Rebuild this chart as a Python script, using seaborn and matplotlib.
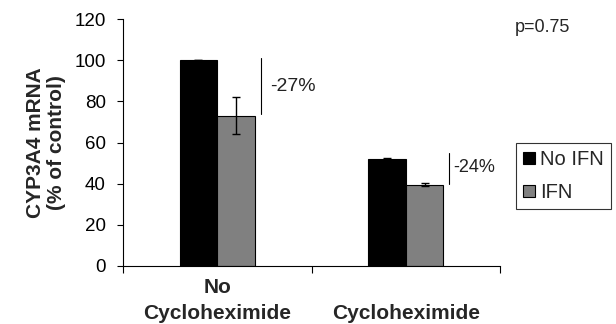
import matplotlib
matplotlib.use("Agg")
import matplotlib.pyplot as plt
import seaborn as sns
import pandas as pd
from matplotlib.lines import Line2D

# Data
conditions = ["No\nCycloheximide", "Cycloheximide"]
treatments = ["No IFN", "IFN"]
no_ifn = [100, 52]
ifn = [73, 39.5]
no_ifn_err = [0, 0.5]
ifn_err = [9, 0.6]
changes = ["-27%", "-24%"]
change_label_y = [87, 48]
p_text = "p=0.75"

df = pd.DataFrame({
    "condition": conditions * 2,
    "treatment": [treatments[0]] * 2 + [treatments[1]] * 2,
    "value": no_ifn + ifn,
})

sns.set_theme(style="white")
plt.rcParams["font.family"] = ["Liberation Sans", "DejaVu Sans"]

fig = plt.figure(figsize=(6.16, 3.24), dpi=100)
ax = fig.add_axes([123 / 616, 1 - 266 / 324, (500 - 123) / 616, (266 - 19) / 324])

colors = ["black", "#808080"]
sns.barplot(data=df, x="condition", y="value", hue="treatment",
            order=conditions, hue_order=treatments, palette=colors,
            width=0.4, edgecolor="black", linewidth=0.8, errorbar=None,
            legend=False, ax=ax)

# Error bars placed on the drawn bars
bars = ax.patches
errs = no_ifn_err + ifn_err
vals = no_ifn + ifn
for bar, v, e in zip(bars, vals, errs):
    cx = bar.get_x() + bar.get_width() / 2
    ax.errorbar(cx, v, yerr=e, fmt="none", ecolor="black", elinewidth=1,
                capsize=3, capthick=1, zorder=5)

# Change brackets and labels
n = len(conditions)
for i in range(n):
    gray_bar = bars[n + i]
    right = gray_bar.get_x() + gray_bar.get_width()
    lx = right + 0.03
    top = no_ifn[i] + (1 if i == 0 else 3)
    bottom = ifn[i] + (1 if i == 0 else 0.5)
    ax.plot([lx, lx], [bottom, top], color="black", lw=0.8)
    ax.text(lx + (0.05 if i == 0 else 0.02), change_label_y[i], changes[i],
            fontsize=14 if i == 0 else 13, va="center", ha="left", color="#222222")

ax.set_ylim(0, 120)
ax.set_xlim(-0.5, 1.5)
ax.set_yticks(range(0, 121, 20))
ax.tick_params(axis="y", labelsize=13.5, length=4.5, width=0.8, direction="out",
               left=True, pad=8, colors="black")
ax.set_xticks([0, 1])
ax.set_xticklabels(conditions, fontsize=15, fontweight="bold", linespacing=1.45)
ax.tick_params(axis="x", length=0, pad=41)
for lbl in ax.get_xticklabels():
    lbl.set_verticalalignment("bottom")
ax.set_xticks([-0.5, 0.5, 1.5], minor=True)
ax.tick_params(axis="x", which="minor", length=5, width=0.8, direction="out",
               bottom=True, color="black")

ax.set_xlabel("")
ax.set_ylabel("CYP3A4 mRNA\n(% of control)", fontsize=15, fontweight="bold",
              labelpad=6, linespacing=1.1)
for s in ["top", "right"]:
    ax.spines[s].set_visible(False)
for s in ["left", "bottom"]:
    ax.spines[s].set_color("black")
    ax.spines[s].set_linewidth(0.8)

fig.text(515 / 616, 1 - 27 / 324, p_text, fontsize=13, va="center", ha="left")

handles = [
    Line2D([], [], marker="s", linestyle="none", markersize=8,
           markerfacecolor=c, markeredgecolor="black", markeredgewidth=0.8)
    for c in colors
]
leg = fig.legend(handles, treatments, loc="upper left",
                 bbox_to_anchor=(516 / 616, 1 - 143 / 324), fontsize=14.5,
                 frameon=True, fancybox=False, handlelength=0.6,
                 handletextpad=0.25, borderpad=0.35, labelspacing=0.7,
                 borderaxespad=0)
leg.get_frame().set_edgecolor("black")
leg.get_frame().set_linewidth(0.8)

fig.savefig("out.png", dpi=100)
